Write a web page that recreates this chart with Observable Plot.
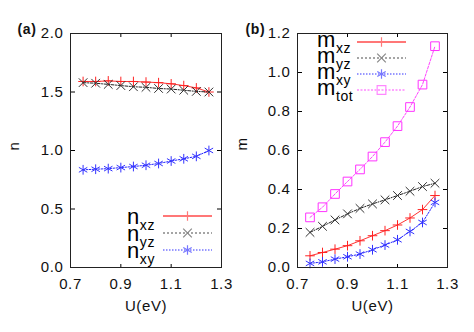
<!DOCTYPE html>
<html>
<head>
<meta charset="utf-8">
<script src="https://cdn.jsdelivr.net/npm/d3@7"></script>
<script src="https://cdn.jsdelivr.net/npm/@observablehq/plot@0.6"></script>
<style>
  html, body { margin: 0; padding: 0; background: #fff; }
  #wrap { position: relative; width: 474px; height: 332px; overflow: hidden; background: #fff; }
  #wrap > div { position: absolute; top: 0; }
</style>
</head>
<body>
<div id="wrap"><div id="pa" style="left:0"></div><div id="pb" style="left:230px"></div></div>
<script>
// ---- data ----
const U = [0.75, 0.80, 0.85, 0.90, 0.95, 1.00, 1.05, 1.10, 1.15, 1.20, 1.25];
const nXZ = [1.59, 1.59, 1.595, 1.59, 1.59, 1.585, 1.58, 1.57, 1.555, 1.535, 1.50];
const nYZ = [1.58, 1.575, 1.565, 1.555, 1.545, 1.54, 1.53, 1.525, 1.515, 1.505, 1.50];
const nXY = [0.835, 0.84, 0.845, 0.854, 0.863, 0.874, 0.889, 0.91, 0.929, 0.95, 1.0];
const mXZ = [0.06, 0.077, 0.094, 0.112, 0.137, 0.163, 0.189, 0.218, 0.254, 0.297, 0.369];
const mYZ = [0.18, 0.211, 0.244, 0.275, 0.303, 0.326, 0.347, 0.369, 0.391, 0.415, 0.432];
const mXY = [0.021, 0.029, 0.043, 0.055, 0.069, 0.091, 0.115, 0.142, 0.185, 0.231, 0.334];
const mTOT = [0.257, 0.309, 0.377, 0.441, 0.503, 0.569, 0.643, 0.725, 0.823, 0.938, 1.135];
const xTicks = [0.7, 0.9, 1.1, 1.3];
const xMinor = [0.9, 1.1];
const nTicks = [0, 0.5, 1.0, 1.5, 2.0];
const mTicks = [0, 0.2, 0.4, 0.6, 0.8, 1.0, 1.2];

// series styles
const S = {
  xz: {symbol: "plus", r: 3.2, color: "#f22", lineColor: "#f33", dash: null, legColor: "#f77", legDash: null, legWidth: 2},
  yz: {symbol: "times", r: 4.0, color: "#333", lineColor: "#222", dash: "3,1.5,1,1.5", legColor: "#888", legDash: "2,2", legWidth: 1.3},
  xy: {symbol: "asterisk", r: 4.6, color: "#33f", lineColor: "#22f", dash: "1.5,1.5", legColor: "#77f", legDash: "1.5,1.5", legWidth: 1.3},
  tot: {symbol: "square", r: 4.9, color: "#f3f", lineColor: "#f4f", dash: "2.5,1.5", legColor: "#f8f", legDash: "2,1.5", legWidth: 1.3}
};

const FONT = "'Liberation Sans', Arial, Helvetica, sans-serif";

function rows(vals) { return U.map((u, i) => ({U: u, v: vals[i]})); }

function panel({W, series, yDomain, yTicks, ylab, ylabX, plab, plabX, mL, mR, legend}) {
  const H = 332, mT = 33, mB = 65;
  const marks = [];
  for (const [key, vals] of series) {
    const s = S[key];
    const d = rows(vals);
    marks.push(Plot.line(d, {x: "U", y: "v", stroke: s.lineColor, strokeWidth: 1, strokeDasharray: s.dash}));
    marks.push(Plot.dot(d, {x: "U", y: "v", symbol: s.symbol, r: s.r, stroke: s.color, fill: "none", strokeWidth: 1}));
  }
  const plot = Plot.plot({
    width: W, height: H,
    marginLeft: mL, marginRight: mR, marginTop: mT, marginBottom: mB,
    style: {fontFamily: FONT, fontSize: "15px", color: "#000", background: "transparent", letterSpacing: "0.6px", overflow: "visible"},
    x: {domain: [0.7, 1.3], axis: null},
    y: {domain: yDomain, axis: null},
    marks: [
      // inward ticks
      Plot.axisY(yTicks, {anchor: "left", tickSize: 5, dx: 5, tickFormat: () => "", label: null}),
      Plot.axisY(yTicks, {anchor: "right", tickSize: 5, dx: -5, tickFormat: () => "", label: null}),
      Plot.axisX(xMinor, {anchor: "bottom", tickSize: 3, dy: -3, tickFormat: () => "", label: null}),
      Plot.axisX(xMinor, {anchor: "top", tickSize: 3, dy: 3, tickFormat: () => "", label: null}),
      // tick labels
      Plot.axisY(yTicks, {anchor: "left", tickSize: 0, tickPadding: 7, tickFormat: d3.format(".1f"), label: null, fill: "#111"}),
      Plot.axisX(xTicks, {anchor: "bottom", tickSize: 0, tickPadding: 11, tickFormat: d3.format(".1f"), label: null, fill: "#111"}),
      ...marks,
      Plot.frame({stroke: "#222", strokeWidth: 1}),
      Plot.text([ylab], {frameAnchor: "left", dx: ylabX - mL, rotate: -90, fontSize: 15, fill: "#111"}),
      Plot.text(["U(eV)"], {frameAnchor: "bottom", dy: 43, fontSize: 15, fill: "#111"}),
      Plot.text([plab], {frameAnchor: "top-left", dx: plabX - mL, dy: -9, fontSize: 14, fontWeight: "bold", fill: "#111", letterSpacing: "0px"})
    ]
  });
  // legend
  const svg = d3.select(plot);
  const g = svg.append("g").attr("font-family", FONT).attr("text-anchor", "start");
  const symMap = {plus: d3.symbolPlus, times: d3.symbolTimes, asterisk: d3.symbolAsterisk, square: d3.symbolSquare};
  legend.rows.forEach((row, i) => {
    const s = S[row.key];
    const y = legend.y0 + i * legend.dy;
    g.append("line").attr("x1", legend.lx1).attr("x2", legend.lx2).attr("y1", y).attr("y2", y)
      .attr("stroke", s.legColor).attr("stroke-width", s.legWidth)
      .attr("stroke-dasharray", s.legDash);
    g.append("path").attr("d", d3.symbol(symMap[s.symbol], Math.PI * s.r * s.r)())
      .attr("transform", `translate(${(legend.lx1 + legend.lx2) / 2},${y})`)
      .attr("fill", "none").attr("stroke", s.legColor).attr("stroke-width", 1.2);
    const t = g.append("text").attr("x", legend.tx).attr("y", y + legend.base).attr("fill", "#000");
    t.append("tspan").attr("font-size", 22).text(legend.letter);
    t.append("tspan").attr("font-size", 14).attr("dy", 6).text(row.sub);
  });
  return plot;
}

document.getElementById("pa").appendChild(panel({
  W: 237,
  series: [["xz", nXZ], ["yz", nYZ], ["xy", nXY]],
  yDomain: [0, 2], yTicks: nTicks, ylab: "n", ylabX: 14, plab: "(a)", plabX: 17, mL: 70, mR: 16,
  legend: {letter: "n", tx: 127, lx1: 163, lx2: 212, y0: 216, dy: 17, base: 8,
    rows: [{key: "xz", sub: "xz"}, {key: "yz", sub: "yz"}, {key: "xy", sub: "xy"}]}
}));

document.getElementById("pb").appendChild(panel({
  W: 244,
  series: [["xz", mXZ], ["yz", mYZ], ["xy", mXY], ["tot", mTOT]],
  yDomain: [0, 1.2], yTicks: mTicks, ylab: "m", ylabX: 12, plab: "(b)", plabX: 15, mL: 67, mR: 27,
  legend: {letter: "m", tx: 87, lx1: 127, lx2: 176, y0: 42, dy: 16, base: 5,
    rows: [{key: "xz", sub: "xz"}, {key: "yz", sub: "yz"}, {key: "xy", sub: "xy"}, {key: "tot", sub: "tot"}]}
}));
</script>
</body>
</html>
